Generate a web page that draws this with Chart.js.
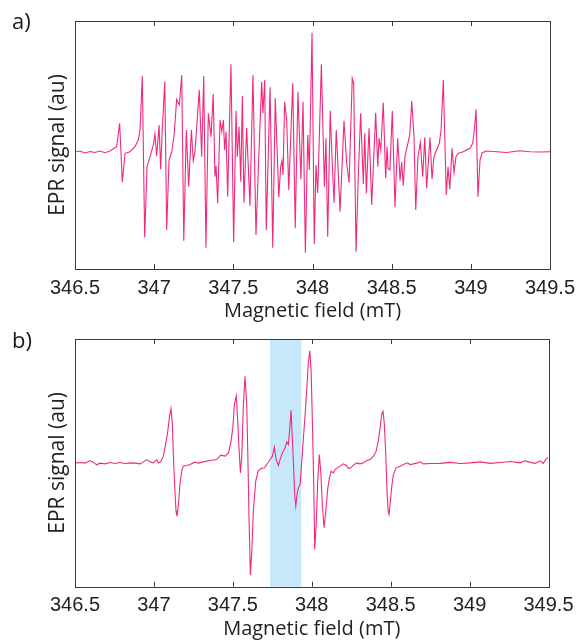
<!DOCTYPE html>
<html>
<head>
<meta charset="utf-8">
<script src="https://cdn.jsdelivr.net/npm/chart.js@4.4.1/dist/chart.umd.min.js"></script>
<style>
  body { margin: 0; background: #fff; width: 577px; height: 643px; position: relative; overflow: hidden; }
  .panel { position: absolute; left: 0; width: 577px; }
  #wrapA { top: 0; height: 322px; }
  #wrapB { top: 322px; height: 321px; }
  .tag { position: absolute; left: 12px; font: 22px/22px "Open Sans", sans-serif; color: #1a1a1a; }
</style>
</head>
<body>
<div class="panel" id="wrapA"><canvas id="chartA"></canvas></div>
<div class="panel" id="wrapB"><canvas id="chartB"></canvas></div>
<div class="tag" style="top:9px">a)</div>
<div class="tag" style="top:328px">b)</div>
<script>
// x axis (magnetic field, mT)
const xTicks = [346.5, 347, 347.5, 348, 348.5, 349, 349.5];
const tickLabels = ['346.5', '347', '347.5', '348', '348.5', '349', '349.5'];
const xTitle = 'Magnetic field (mT)';
const yTitle = 'EPR signal (au)';

// spectrum a) : [field (mT), signal (au)]
const spectrumA = [
  [346.500, 0], [346.532, 1], [346.563, -1], [346.595, 0.5], [346.626, -0.5], [346.658, 1],
  [346.689, -0.7], [346.721, 1], [346.763, 5.3], [346.782, 28.7], [346.799, -30.3], [346.816, -1.3],
  [346.847, 0.3], [346.879, 5.3], [346.900, 12], [346.911, 22], [346.925, 76], [346.940, -85.3],
  [346.955, -14.7], [346.974, -4.7], [346.995, 7], [347.005, 18], [347.016, -4], [347.031, 27],
  [347.041, -17.3], [347.051, 22], [347.067, 70.3], [347.079, -78], [347.094, -8], [347.111, 0.3],
  [347.127, 18.7], [347.142, 52.7], [347.159, 47], [347.174, 77], [347.187, -88.7], [347.203, 22],
  [347.218, -34.7], [347.235, 22], [347.247, -8.7], [347.258, 0.3], [347.285, 62], [347.300, -4.7],
  [347.313, 76], [347.327, -95.7], [347.342, 38.7], [347.359, 15.3], [347.373, 58], [347.384, -24.7],
  [347.391, -13.7], [347.401, -51.3], [347.416, 32], [347.427, 20.3], [347.437, 32], [347.445, 2],
  [347.454, 20.3], [347.464, -44.7], [347.485, 87.7], [347.502, -90.3], [347.517, 41.3], [347.525, -4.7],
  [347.536, 25.3], [347.547, -29.7], [347.557, 56], [347.567, -50.7], [347.584, 24.3], [347.605, -54],
  [347.624, 77], [347.643, -83], [347.660, -8], [347.679, 70.3], [347.687, 38.7], [347.698, 72],
  [347.708, -78], [347.732, 64.7], [347.749, -95.7], [347.765, 53.7], [347.787, -45.3], [347.799, -14.7],
  [347.807, -8.7], [347.814, -23], [347.824, 50.3], [347.837, 32], [347.850, -38], [347.875, 68.7],
  [347.891, -76.3], [347.908, 60.3], [347.927, -27.3], [347.940, 50.3], [347.955, -100.7], [347.970, 17],
  [347.980, -18], [347.997, 119.3], [348.011, -92], [348.022, -13], [348.033, -41], [348.056, 87.7],
  [348.075, -34.7], [348.085, 13.7], [348.096, -84.7], [348.112, 41.3], [348.123, -4.7], [348.136, -50.7],
  [348.150, 22], [348.159, -8], [348.174, -59.7], [348.199, 31.3], [348.216, -11.3], [348.231, -30.7],
  [348.251, 73.7], [348.260, 68.7], [348.275, -99.7], [348.289, -24.7], [348.304, 38.7], [348.321, -32],
  [348.330, 18.7], [348.340, -41.3], [348.357, 23.7], [348.374, -53], [348.399, 39.3], [348.412, -14.7],
  [348.420, 13.7], [348.431, 2], [348.447, 49.3], [348.462, -26.3], [348.471, 5.3], [348.477, -16.3],
  [348.489, -18], [348.504, 41.3], [348.521, -55.3], [348.538, 13.7], [348.553, -28.7], [348.563, -9.7],
  [348.573, -33.7], [348.584, -4.7], [348.605, 10.3], [348.614, 17], [348.627, 51], [348.641, 15.3],
  [348.652, -58], [348.666, -4.7], [348.681, 9.3], [348.696, -24.7], [348.709, 14.7], [348.721, -36.3],
  [348.742, 14.7], [348.755, -27], [348.767, -4.7], [348.784, 2], [348.801, 8.7], [348.812, 22],
  [348.826, 72], [348.845, -43], [348.856, -14.7], [348.867, -37.3], [348.881, 3.7], [348.894, -20.7],
  [348.906, -4.7], [348.921, -1.3], [348.952, 0.3], [348.995, 3.7], [349.012, 8.7], [349.022, 22],
  [349.033, 42.7], [349.045, -44.7], [349.058, -8], [349.071, -0.7], [349.100, 1], [349.163, 0.3],
  [349.226, -0.5], [349.310, 1.3], [349.374, 0.3], [349.437, 0], [349.500, 0.3]
];

// spectrum b) : [field (mT), signal (au)]
const spectrumB = [
  [346.500, -0.3], [346.532, 0.3], [346.563, -0.3], [346.595, 2.3], [346.614, 0.7], [346.638, -2],
  [346.658, -0.3], [346.690, -1], [346.722, 0.3], [346.754, -0.7], [346.785, 0.3], [346.817, -0.7],
  [346.849, 0], [346.880, -0.3], [346.912, -1], [346.933, 1], [346.954, 3.3], [346.975, 1],
  [346.996, 0], [347.018, 3.3], [347.028, 0], [347.043, 1], [347.060, 6.7], [347.070, 15],
  [347.085, 28.3], [347.098, 45], [347.108, 54.3], [347.117, 38.3], [347.123, 8.3], [347.132, -25],
  [347.140, -48.3], [347.146, -53.3], [347.155, -41.7], [347.165, -21.7], [347.176, -8.3], [347.186, -3.3],
  [347.208, -2.7], [347.229, -1.7], [347.261, 0.7], [347.281, -0.3], [347.313, 1], [347.356, 2.3],
  [347.398, 3.3], [347.423, 7.7], [347.451, 6.7], [347.472, 10], [347.487, 20], [347.500, 35],
  [347.510, 58.3], [347.522, 67.3], [347.531, 41.7], [347.539, 15], [347.548, -10], [347.557, 8.3],
  [347.567, 58.3], [347.577, 86.7], [347.588, 58.3], [347.595, 8.3], [347.603, -58.3], [347.611, -112.3],
  [347.620, -88.3], [347.630, -48.3], [347.645, -18.3], [347.662, -7.7], [347.679, -5.7], [347.700, -5],
  [347.715, -1.7], [347.736, 3.3], [347.751, 6.7], [347.763, 15.7], [347.774, 3.3], [347.789, -2.7],
  [347.799, 3.3], [347.814, 10], [347.831, 15], [347.842, 21], [347.852, 18.3], [347.861, 35],
  [347.869, 52.7], [347.877, 25], [347.886, -8.3], [347.892, -31.7], [347.899, -43.3], [347.907, -31.7],
  [347.915, -25], [347.926, -21.7], [347.937, 1.7], [347.947, 25], [347.958, 48.3], [347.969, 75],
  [347.977, 98.3], [347.988, 112.3], [347.996, 91.7], [348.004, 41.7], [348.013, -25], [348.019, -86.7],
  [348.028, -61.7], [348.038, -18.3], [348.048, 8.3], [348.057, -8.3], [348.067, -41.7], [348.078, -65],
  [348.089, -48.3], [348.102, -25], [348.112, -15], [348.123, -8.3], [348.137, -10], [348.148, -6.7],
  [348.162, -5], [348.180, -3.3], [348.200, -1], [348.218, -2.3], [348.232, -5.7], [348.247, -5],
  [348.264, -2.3], [348.285, 0], [348.306, -1], [348.327, 0], [348.349, 2.3], [348.370, 3.3],
  [348.391, 6.7], [348.408, 11.7], [348.422, 21.7], [348.433, 35], [348.444, 49], [348.452, 51.7],
  [348.460, 38.3], [348.469, 8.3], [348.477, -28.3], [348.484, -48.3], [348.490, -51.7], [348.496, -41.7],
  [348.507, -23.3], [348.517, -11.7], [348.534, -5], [348.560, -3.3], [348.581, -1.7], [348.606, 0],
  [348.623, -1.7], [348.644, -1], [348.670, 0], [348.687, 1], [348.708, -1], [348.750, -0.7],
  [348.813, -0.5], [348.877, 0.5], [348.940, -0.7], [349.004, 0], [349.067, 1], [349.130, -0.5],
  [349.194, 0.3], [349.257, 1.3], [349.320, 0], [349.352, 2], [349.384, 0.5], [349.416, -0.5],
  [349.447, 2], [349.466, -0.5], [349.485, 4], [349.500, 5.3]
];

// highlighted field window in b)
const bandB = [347.736, 347.934];

const lineColor = '#f2287e';
const frameColor = '#3a3a3a';

Chart.defaults.animation = false;

// box round the plot + inward ticks top and bottom
const framePlugin = {
  id: 'frame',
  afterDraw(chart) {
    const { ctx, chartArea: a, scales: { x } } = chart;
    ctx.save();
    ctx.strokeStyle = frameColor;
    ctx.lineWidth = 1;
    ctx.strokeRect(Math.round(a.left) + 0.5, Math.round(a.top) + 0.5,
                   Math.round(a.right - a.left), Math.round(a.bottom - a.top));
    ctx.beginPath();
    x.ticks.forEach(t => {
      const px = Math.round(x.getPixelForValue(t.value)) + 0.5;
      ctx.moveTo(px, a.top); ctx.lineTo(px, a.top + 5);
      ctx.moveTo(px, a.bottom); ctx.lineTo(px, a.bottom - 5);
    });
    ctx.stroke();
    ctx.restore();
  }
};

// shaded field window
const bandPlugin = {
  id: 'band',
  beforeDatasetsDraw(chart, args, opts) {
    if (!opts.range) return;
    const { ctx, chartArea: a, scales: { x } } = chart;
    const x0 = x.getPixelForValue(opts.range[0]);
    const x1 = x.getPixelForValue(opts.range[1]);
    ctx.save();
    ctx.fillStyle = opts.color;
    ctx.fillRect(x0, a.top, x1 - x0, a.bottom - a.top);
    ctx.restore();
  }
};

function dessiner(id, spectrum, yMin, yMax, lay, band) {
  const ctx = document.getElementById(id).getContext('2d');
  return new Chart(ctx, {
    type: 'scatter',
    data: {
      datasets: [{
        data: spectrum.map(p => ({ x: p[0], y: p[1] })),
        showLine: true,
        borderColor: lineColor,
        borderWidth: 1.1,
        pointRadius: 0,
        tension: 0
      }]
    },
    options: {
      responsive: true,
      maintainAspectRatio: false,
      layout: { padding: { top: lay.top, right: lay.right, left: 0, bottom: 0 } },
      plugins: {
        legend: { display: false },
        tooltip: { enabled: false },
        band: { range: band, color: '#c6e8fa' }
      },
      scales: {
        x: {
          type: 'linear', min: 346.5, max: 349.5,
          afterBuildTicks: s => { s.ticks = xTicks.map(v => ({ value: v })); },
          // fixed axis height, and no extra room for the end labels
          afterFit: s => { s.height = lay.xh; s.paddingLeft = 0; s.paddingRight = 0; },
          grid: { display: false, drawTicks: false },
          border: { display: false },
          ticks: {
            padding: 7, maxRotation: 0, autoSkip: false, color: '#222',
            font: { family: '"Liberation Sans", Arial', size: 20 },
            callback: (v, i) => tickLabels[i]
          },
          title: {
            display: true, text: xTitle, color: '#222',
            font: { family: '"Open Sans"', size: 20, lineHeight: 1.1 },
            padding: { top: 0, bottom: lay.tb }
          }
        },
        y: {
          min: yMin, max: yMax,
          afterFit: s => { s.width = 75; },
          grid: { display: false, drawTicks: false },
          border: { display: false },
          ticks: { display: false },
          title: {
            display: true, text: yTitle, color: '#222',
            font: { family: '"Open Sans"', size: 21, lineHeight: 1.2 },
            padding: { top: 45, bottom: 0 }
          }
        }
      }
    },
    plugins: [bandPlugin, framePlugin]
  });
}

dessiner('chartA', spectrumA, -117, 131, { top: 21, right: 27, xh: 53, tb: 0 }, null);
dessiner('chartB', spectrumB, -124, 124, { top: 17, right: 28.5, xh: 56.3, tb: 3 }, bandB);
</script>
</body>
</html>
